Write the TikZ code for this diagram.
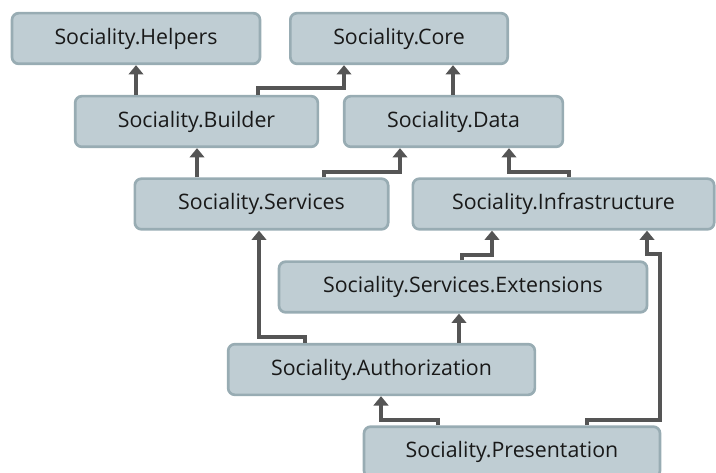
\documentclass[tikz,border=0pt]{standalone}
\usepackage{fontspec}
\setmainfont{Open Sans}
\usetikzlibrary{arrows.meta}

\definecolor{boxfill}{HTML}{BFCDD3}
\definecolor{boxline}{HTML}{98ACB3}
\definecolor{deparrow}{HTML}{555555}

\begin{document}
\begin{tikzpicture}[x=0.75pt,y=-0.75pt,
      proj/.style={draw=boxline,fill=boxfill,line width=2pt,rounded corners=5pt,
        minimum height=38pt,inner sep=0pt,font=\fontsize{16}{19}\selectfont,text=black!90},
      dep/.style={draw=deparrow,line width=3pt,-{Triangle[width=11pt,length=7pt]}}]

    \useasboundingbox (0,0) rectangle (716,473);

    \node[proj, minimum width=186pt] (helpers) at (136,38.5) {Sociality.Helpers};
    \node[proj, minimum width=163pt] (core) at (399,38.5) {Sociality.Core};
    \node[proj, minimum width=182pt] (builder) at (196.5,121.5) {Sociality.Builder};
    \node[proj, minimum width=164pt] (data) at (453.5,121.5) {Sociality.Data};
    \node[proj, minimum width=190pt] (services) at (261.5,204) {Sociality.Services};
    \node[proj, minimum width=226pt] (infra) at (563.5,204) {Sociality.Infrastructure};
    \node[proj, minimum width=276pt] (ext) at (463,287) {Sociality.Services.Extensions};
    \node[proj, minimum width=230pt] (auth) at (381.5,369.5) {Sociality.Authorization};
    \node[proj, minimum width=222pt] (pres) at (512,452) {Sociality.Presentation};

    \draw[dep] (136,0 |- builder.north) -- (136,0 |- helpers.south);
    \draw[dep] (builder.north -| 258,0) |- (300,88) -| (core.south -| 344,0);
    \draw[dep] (data.north -| 453,0) -- (core.south -| 453,0);
    \draw[dep] (197,0 |- services.north) -- (197,0 |- builder.south);
    \draw[dep] (services.north -| 324,0) |- (360,172) -| (data.south -| 400,0);
    \draw[dep] (infra.north -| 569,0) |- (540,172) -| (data.south -| 509,0);
    \draw[dep] (ext.north -| 462,0) |- (480,255) -| (infra.south -| 492,0);
    \draw[dep] (auth.north -| 459,0) -- (ext.south -| 459,0);
    \draw[dep] (auth.north -| 305,0) |- (280,337) -| (services.south -| 259,0);
    \draw[dep] (pres.north -| 438,0) |- (410,420) -| (auth.south -| 381,0);
    \draw[dep] (pres.north -| 587,0) |- (660,420) |- (650,254) -| (infra.south -| 647,0);
  \end{tikzpicture}
\end{document}
